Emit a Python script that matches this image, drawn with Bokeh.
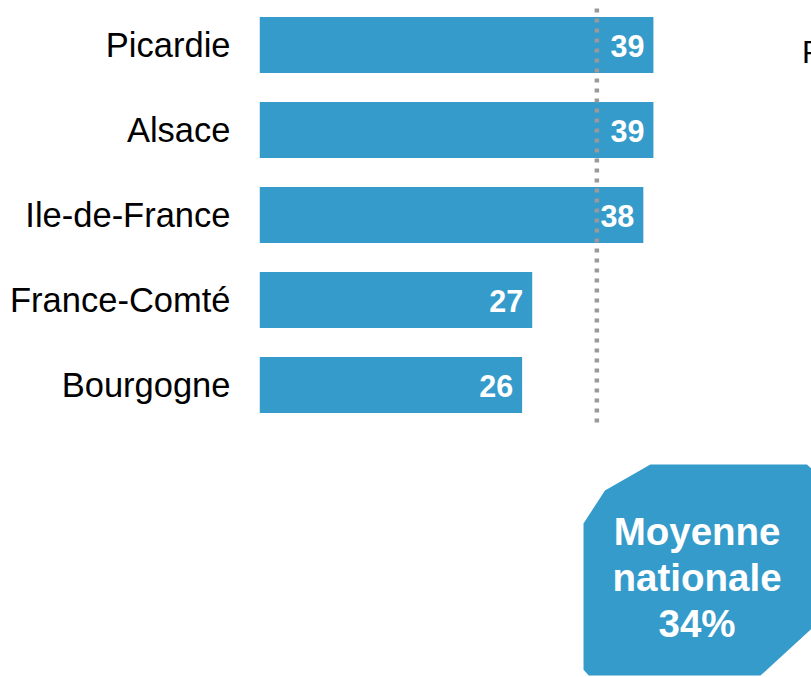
from bokeh.plotting import figure
from bokeh.models import Range1d, FixedTicker, ColumnDataSource
from bokeh.core.properties import value
from bokeh.embed import file_html
from bokeh.resources import INLINE

# ---- data ----
regions = ["Picardie", "Alsace", "Ile-de-France", "France-Comté", "Bourgogne"]
values = [39, 39, 38, 27, 26]
avg_line_value = 33.4          # position of the dotted average line
avg_label = ["Moyenne", "nationale", "34%"]
corner_letter = "P"

BLUE = "#359BCB"
FONT = "Liberation Sans"

pos = list(range(len(regions)))

p = figure(
    frame_width=552, frame_height=677,
    min_border_left=259, min_border_right=0, min_border_top=0, min_border_bottom=0,
    x_range=Range1d(0, 54.65), y_range=Range1d(7.441, -0.5235),
    x_axis_location=None,
    output_backend="svg", toolbar_location=None,
)
p.outline_line_color = None
p.xgrid.visible = False
p.ygrid.visible = False
p.background_fill_color = "white"
p.border_fill_color = "white"

ax = p.yaxis[0]
ax.ticker = FixedTicker(ticks=pos)
ax.major_label_overrides = {i: r for i, r in zip(pos, regions)}
ax.axis_line_color = None
ax.major_tick_line_color = None
ax.minor_tick_line_color = None
ax.major_label_text_font = FONT
ax.major_label_text_font_size = "34.5px"
ax.major_label_text_color = "#000000"
ax.major_label_standoff = 23

src = ColumnDataSource(dict(y=pos, v=values, lab=[str(v) for v in values],
                            ly=[i + 0.01 for i in pos]))
p.hbar(y="y", left=0, right="v", height=0.66, source=src, color=BLUE, line_color=None)

# dotted average line
p.segment(x0=[avg_line_value], y0=[-0.43], x1=[avg_line_value], y1=[4.5],
          line_color="#9a9a9a", line_width=4.5, line_dash="4 6")

p.text(x="v", y="ly", text="lab", source=src, x_offset=-9,
       text_align="right", text_baseline="alphabetic",
       text_font=value(FONT), text_font_style="bold", text_font_size="30.5px",
       text_color="white")

# callout box
bx = [32.08, 34.2, 38.7, 54.2, 54.8, 54.8, 49.6, 32.6, 32.08]
by = [5.63, 5.24, 4.935, 4.935, 5.0, 6.853, 7.418, 7.418, 7.35]
p.patch(bx, by, color=BLUE, line_color=None)
p.text(x=[43.32] * 3, y=[5.72, 6.262, 6.806], text=avg_label,
       text_align="center", text_baseline="alphabetic",
       text_font=value(FONT), text_font_style="bold", text_font_size="38.5px",
       text_color="white")

# partially visible text at top right
p.text(x=[53.7], y=[0.088], text=[corner_letter], text_align="left",
       text_baseline="alphabetic", text_font=value(FONT), text_font_size="31px",
       text_color="#000000")

open("out.html", "w").write(file_html(p, INLINE))
